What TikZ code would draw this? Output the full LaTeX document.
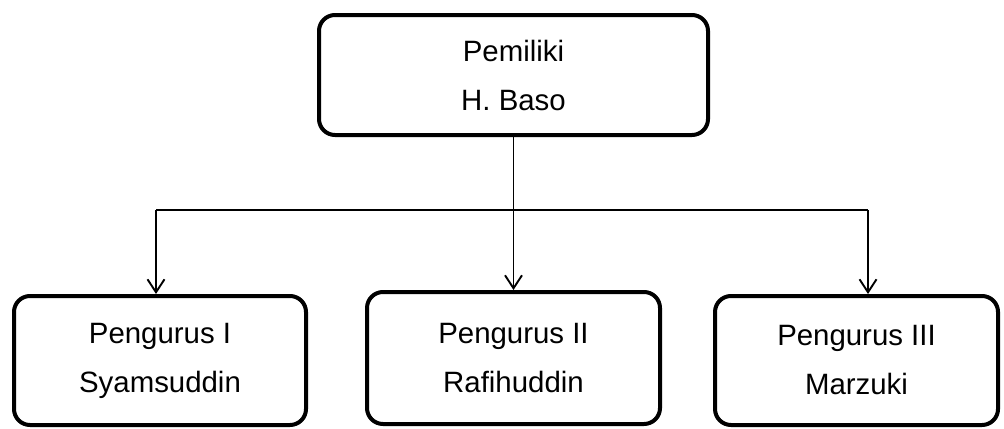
\documentclass[tikz,border=0pt]{standalone}
\usepackage{fontspec}
\setmainfont{Liberation Sans}
\usetikzlibrary{arrows.meta}
\tikzset{
  orgbox/.style={draw, line width=2pt, rounded corners=8pt, align=center, inner sep=0pt,
    font=\fontsize{14.7pt}{24.5pt}\selectfont},
  link/.style={line width=0.95pt, -{Straight Barb[length=6.5pt,width=8.5pt,line width=0.95pt]}}
}
\begin{document}
\begin{tikzpicture}[x=0.5pt,y=-0.5pt]
		\useasboundingbox (0,0) rectangle (1004,428);
		\node[orgbox, minimum width=194.5pt, minimum height=60pt] (boss) at (513.5,75) {Pemiliki\\H. Baso};
		\node[orgbox, minimum width=146pt, minimum height=64.5pt] (p1) at (160,360.5) {Pengurus I\\Syamsuddin};
		\node[orgbox, minimum width=146.5pt, minimum height=66pt] (p2) at (513.5,358) {Pengurus II\\Rafihuddin};
		\node[orgbox, minimum width=141.5pt, minimum height=64.5pt] (p3) at (856.5,360.5) {Pengurus III\\Marzuki};
		\coordinate (left) at (156,210);
		\coordinate (right) at (868,210);
		\draw[line width=0.95pt] (left) -- (right);
		\draw[link] (boss) -- (p2);
		\draw[link] (left) -- (left |- p1.north);
		\draw[link] (right) -- (right |- p3.north);
	\end{tikzpicture}
\end{document}
